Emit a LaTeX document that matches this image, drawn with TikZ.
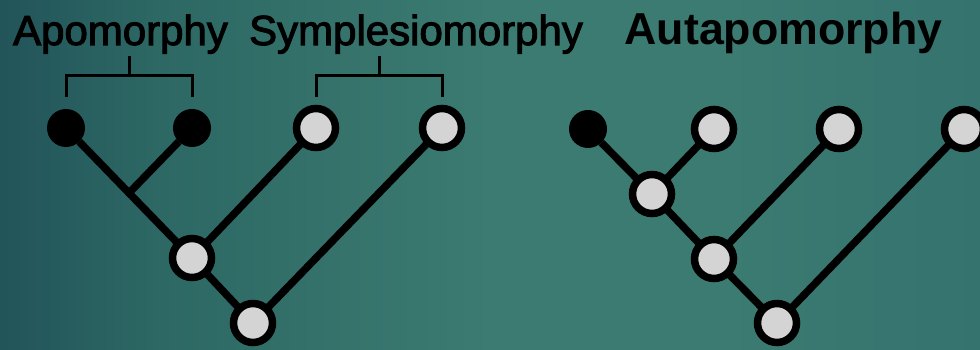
\documentclass[tikz,border=0pt]{standalone}
\usepackage{fontspec}
\setmainfont{Liberation Sans}
\newfontfamily\medfont[FakeBold=2.5]{Liberation Sans}
\usetikzlibrary{calc}

\definecolor{nodegray}{HTML}{D4D4D4}
\definecolor{bgleft}{HTML}{22545A}
\definecolor{bgdim}{HTML}{2D6864}
\definecolor{bgmid}{HTML}{3B7B71}
\definecolor{bgright}{HTML}{35736F}

% backdrop runs from 25bp (left edge) to 75bp (right edge)
\pgfdeclarehorizontalshading{backdrop}{100bp}{color(0bp)=(bgleft); color(25bp)=(bgleft);
  color(33bp)=(bgdim); color(50bp)=(bgmid); color(62bp)=(bgmid); color(75bp)=(bgright); color(100bp)=(bgright)}

\begin{document}
\begin{tikzpicture}[x=1pt, y=1pt,
    leaf/.style={circle, fill=black, minimum size=38pt, inner sep=0pt, outer sep=0pt},
    taxon/.style={circle, draw=black, line width=7.5pt, fill=nodegray, minimum size=39pt, inner sep=0pt, outer sep=0pt},
    branch/.style={line width=7.5pt},
    bracket/.style={line width=3pt},
    title/.style={anchor=base, inner sep=0pt, font=\medfont\fontsize{42}{50}\selectfont}]

      % Background
      \shade[shading=backdrop] (0,0) rectangle (980,350);
      \clip (0,0) rectangle (980,350);

      % Titles
      \node[title] (apo) at (120.5,305) {Apomorphy};
      \node[title] (sym) at (416,305) {Symplesiomorphy};
      \node[title, font=\normalfont\fontsize{44.7}{54}\selectfont\bfseries] (aut) at (783.5,305) {Autapomorphy};

      % Left tree
      \node[leaf] (A1) at (66,222) {};
      \node[leaf] (A2) at (192,222) {};
      \node[taxon] (S1) at (316,222) {};
      \node[taxon] (S2) at (442,222) {};
      \node[taxon] (N1) at (192,92) {};
      \node[taxon] (N2) at (253,27) {};
      \coordinate (J) at ($(A1)!0.5!(N1)$);

      \draw[branch] (A1) -- (J) -- (N1);
      \draw[branch] (A2) -- (J);
      \draw[branch] (S1) -- (N1);
      \draw[branch] (N1) -- (N2);
      \draw[branch] (S2) -- (N2);

      % Brackets
      \draw[bracket] ([yshift=12pt]A1.north) -- ++(0,21) -| ([yshift=12pt]A2.north);
      \draw[bracket] ($(A1.north)!0.5!(A2.north)+(0,33)$) -- ++(0,20);
      \draw[bracket] ([yshift=11.5pt]S1.north) -- ++(0,21) -| ([yshift=11.5pt]S2.north);
      \draw[bracket] ($(S1.north)!0.5!(S2.north)+(0,32.5)$) -- ++(0,20);

      % Right tree
      \node[leaf] (B1) at (588,221) {};
      \node[taxon] (W1) at (714,221) {};
      \node[taxon] (W2) at (839,221) {};
      \node[taxon] (W3) at (964,221) {};
      \node[taxon] (M1) at (652,156) {};
      \node[taxon] (M2) at (714,91) {};
      \node[taxon] (M3) at (777,27) {};

      \draw[branch] (B1) -- (M1);
      \draw[branch] (W1) -- (M1);
      \draw[branch] (M1) -- (M2);
      \draw[branch] (W2) -- (M2);
      \draw[branch] (M2) -- (M3);
      \draw[branch] (W3) -- (M3);
\end{tikzpicture}
\end{document}
